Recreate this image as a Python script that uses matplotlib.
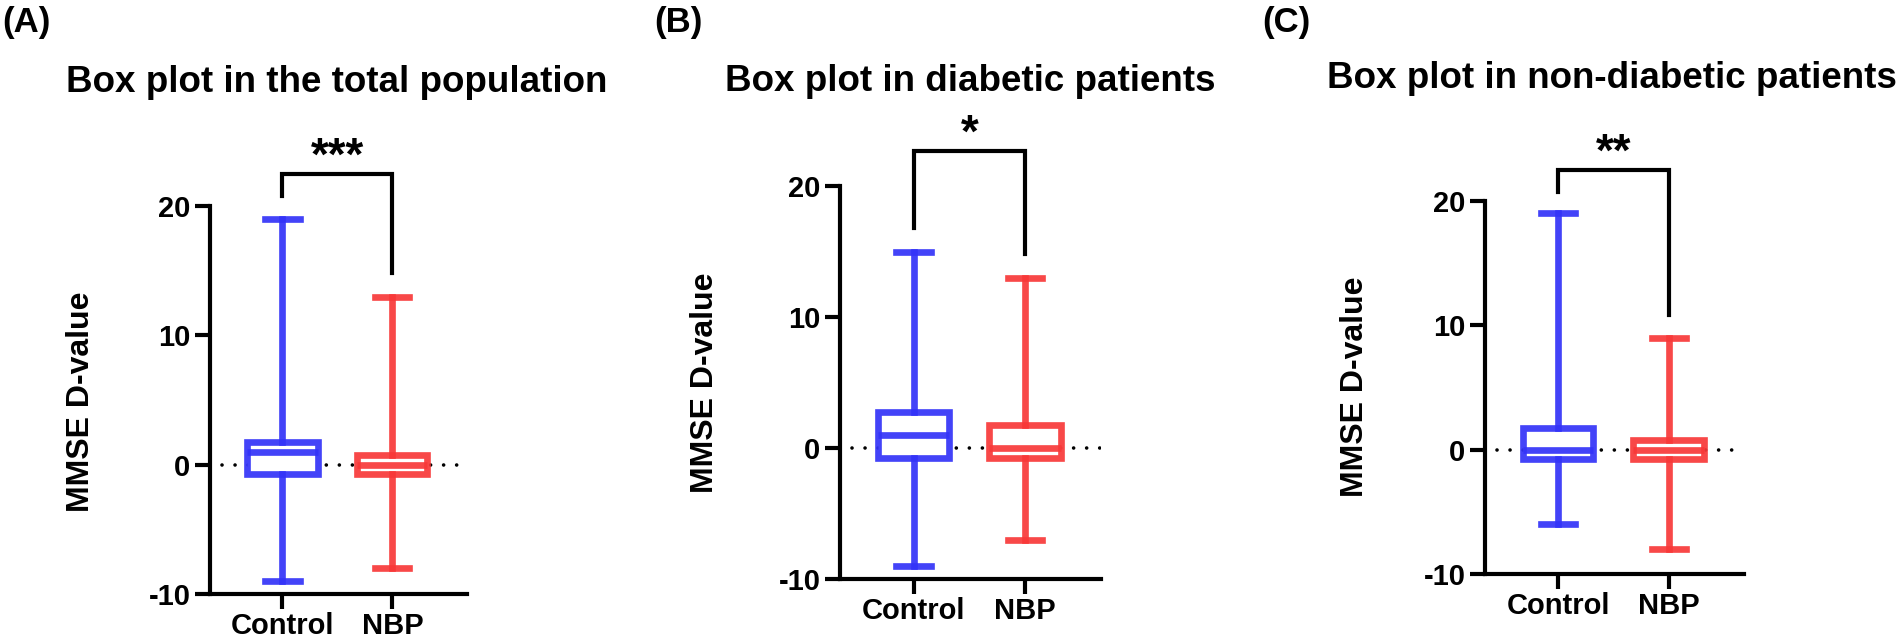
import matplotlib
matplotlib.use("Agg")
import matplotlib.pyplot as plt
from matplotlib.colors import to_rgba

plt.rcParams['font.family'] = ['Liberation Sans', 'DejaVu Sans']
plt.rcParams['font.weight'] = 'bold'
plt.rcParams['axes.unicode_minus'] = False

groups = ["Control", "NBP"]
panel_labels = ["(A)", "(B)", "(C)"]
titles = ["Box plot in the total population",
          "Box plot in diabetic patients",
          "Box plot in non-diabetic patients"]
stars = ["***", "*", "**"]

# per panel: [Control, NBP]
mins = [[-9, -8], [-9, -7], [-6, -8]]
q1s = [[-0.75, -0.75], [-0.75, -0.75], [-0.75, -0.75]]
meds = [[1, 0], [1, 0], [0, 0]]
q3s = [[1.75, 0.75], [2.75, 1.75], [1.75, 0.75]]
maxs = [[19, 13], [15, 13], [19, 9]]
bracket_top = [22.5, 22.7, 22.5]
bracket_legs = [[20.8, 14.8], [16.8, 14.8], [20.7, 10.8]]
yticks = [-10, 0, 10, 20]

colors = ["#3333F8", "#F83838"]

W, H = 1902, 640
fig = plt.figure(figsize=(W / 100, H / 100), dpi=100)

# axes geometry in pixels: left, right, y(-10), y(20)
geo = [(210, 467, 594, 206), (840, 1101, 579, 186), (1485, 1744, 574, 201)]
label_pos = [(2, 6), (654, 6), (1262, 6)]
title_pos = [(337, 92), (970, 91), (1612, 88)]
ylabel_pos = [(81, 402), (705, 383), (1355, 387)]

for i in range(3):
    l, r, yb, yt = geo[i]
    ax = fig.add_axes([l / W, 1 - yb / H, (r - l) / W, (yb - yt) / H])
    stats = []
    for j in range(2):
        stats.append(dict(med=meds[i][j], q1=q1s[i][j], q3=q3s[i][j],
                          whislo=mins[i][j], whishi=maxs[i][j], fliers=[]))
    bp = ax.bxp(stats, positions=[1, 2], widths=0.64, capwidths=0.31,
                showfliers=False, patch_artist=True)
    for j in range(2):
        c = to_rgba(colors[j], 0.92)
        bp['boxes'][j].set(facecolor='white', edgecolor=c, linewidth=4.8, zorder=3)
        bp['medians'][j].set(color=c, linewidth=4.8, zorder=4)
        for key in ['whiskers', 'caps']:
            for k in (2 * j, 2 * j + 1):
                bp[key][k].set(color=c, linewidth=4.8, zorder=3)
    ax.plot([0.45, 2.67], [0, 0], color='black', linestyle=(0, (0.01, 3.6)),
            linewidth=2.6, zorder=2, dash_capstyle='round')
    ax.set_xlim(0.34, 2.68)
    ax.set_ylim(-10, 20)
    ax.set_yticks(yticks)
    ax.set_xticks([1, 2])
    ax.set_xticklabels(groups)
    for s in ['top', 'right']:
        ax.spines[s].set_visible(False)
    for s in ['left', 'bottom']:
        ax.spines[s].set_linewidth(3)
    ax.tick_params(axis='both', width=3, length=11, labelsize=21, direction='out')
    ax.tick_params(axis='y', pad=3)
    ax.tick_params(axis='x', pad=2)
    for t in ax.get_xticklabels() + ax.get_yticklabels():
        t.set_fontweight('bold')
    # significance bracket
    top = bracket_top[i]
    ax.plot([1, 1, 2, 2], [bracket_legs[i][0], top, top, bracket_legs[i][1]],
            color='black', linewidth=3, clip_on=False, solid_joinstyle='miter')
    ax.text(1.5, top + 0.3, stars[i], ha='center', va='baseline',
            fontsize=33, fontweight='bold', clip_on=False)
    fig.text(label_pos[i][0] / W, 1 - label_pos[i][1] / H, panel_labels[i],
             ha='left', va='top', fontsize=25, fontweight='bold')
    fig.text(title_pos[i][0] / W, 1 - title_pos[i][1] / H, titles[i],
             ha='center', va='baseline', fontsize=26.5, fontweight='bold')
    fig.text(ylabel_pos[i][0] / W, 1 - ylabel_pos[i][1] / H, "MMSE D-value",
             ha='center', va='center', rotation=90, fontsize=23, fontweight='bold')

fig.savefig("out.png", dpi=100)
